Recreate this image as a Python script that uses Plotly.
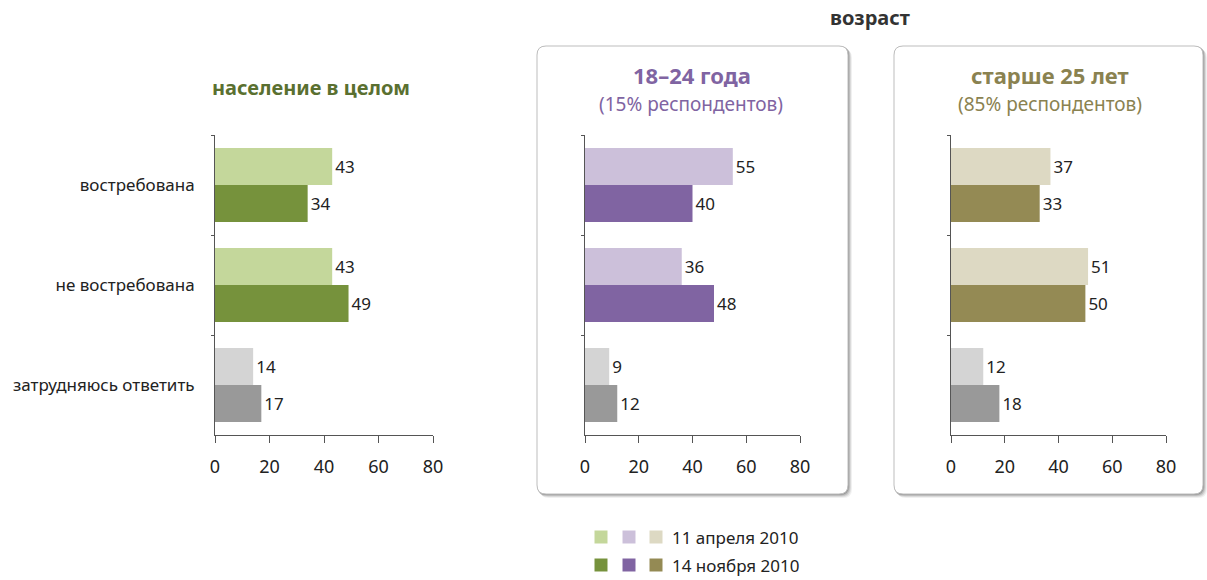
import plotly.graph_objects as go

# ---- data ----
categories = ["востребована", "не востребована", "затрудняюсь ответить"]
total_apr = [43, 43, 14]
total_nov = [34, 49, 17]
young_apr = [55, 36, 9]
young_nov = [40, 48, 12]
older_apr = [37, 51, 12]
older_nov = [33, 50, 18]
x_ticks = [0, 20, 40, 60, 80]
legend_labels = ["11 апреля 2010", "14 ноября 2010"]

W, H = 1207, 580
FONT = "Noto Sans"
TXT = "#222222"


def px(X):
    return X / W


def py(Y):
    return 1 - Y / H


panels = [
    dict(apr=total_apr, nov=total_nov, light="#c4d79b", dark="#76923c", x0=215, x1=433),
    dict(apr=young_apr, nov=young_nov, light="#ccc0da", dark="#8064a2", x0=585, x1=800),
    dict(apr=older_apr, nov=older_nov, light="#ddd9c3", dark="#948a54", x0=951, x1=1166),
]
gray_light, gray_dark = "#d4d4d4", "#999999"
y_top, y_bot = 135, 435

fig = go.Figure()
layout_axes = {}
for i, p in enumerate(panels, start=1):
    xa = "x" if i == 1 else f"x{i}"
    ya = "y" if i == 1 else f"y{i}"
    light_cols = [p["light"], p["light"], gray_light]
    dark_cols = [p["dark"], p["dark"], gray_dark]
    for vals, cols in ((p["apr"], light_cols), (p["nov"], dark_cols)):
        fig.add_trace(go.Bar(
            y=categories, x=vals, orientation="h",
            marker=dict(color=cols, line=dict(width=0)),
            text=[str(v) for v in vals], textposition="outside",
            textfont=dict(family=FONT, size=17, color=TXT),
            cliponaxis=False, showlegend=False, hoverinfo="skip",
            xaxis=xa, yaxis=ya,
        ))
    xkey = "xaxis" if i == 1 else f"xaxis{i}"
    ykey = "yaxis" if i == 1 else f"yaxis{i}"
    layout_axes[xkey] = dict(
        domain=[px(p["x0"]), px(p["x1"])], anchor=ya, range=[0, 80],
        tickvals=x_ticks, ticktext=[str(t) for t in x_ticks],
        showgrid=False, zeroline=False, showline=True, linecolor="#555555", linewidth=1,
        ticks="outside", ticklen=7, tickcolor="#555555", automargin=False,
        ticklabelstandoff=8,
        tickfont=dict(family=FONT, size=18, color=TXT), fixedrange=True,
    )
    layout_axes[ykey] = dict(
        domain=[py(y_bot), py(y_top)], anchor=xa,
        type="category", categoryorder="array", categoryarray=categories,
        autorange="reversed", automargin=False,
        showgrid=False, zeroline=False, showline=True, linecolor="#555555", linewidth=1,
        ticks="outside", ticklen=3, tickcolor="#555555", tickson="boundaries",
        showticklabels=(i == 1), ticklabelstandoff=16,
        tickfont=dict(family=FONT, size=17, color=TXT), fixedrange=True,
    )


def rr(x0, y0, x1, y1, r):
    Y0, Y1 = -y0, -y1
    return (f"M {x0 + r},{Y0} L {x1 - r},{Y0} Q {x1},{Y0} {x1},{Y0 - r} "
            f"L {x1},{Y1 + r} Q {x1},{Y1} {x1 - r},{Y1} L {x0 + r},{Y1} "
            f"Q {x0},{Y1} {x0},{Y1 + r} L {x0},{Y0 - r} Q {x0},{Y0} {x0 + r},{Y0} Z")


def pshape(path, fill, line_color=None, lw=0):
    return dict(type="path", path=path, xref="paper", yref="paper",
                xsizemode="pixel", ysizemode="pixel", xanchor=0, yanchor=1,
                fillcolor=fill, line=dict(color=line_color or fill, width=lw),
                layer="below")


shapes = []
for bx0, bx1 in ((537, 848), (894, 1203)):
    by0, by1 = 46, 494
    for off, a in ((4, 0.06), (3, 0.09), (2, 0.13), (1, 0.18)):
        shapes.append(pshape(rr(bx0 + off - 1, by0 + off - 1, bx1 + off, by1 + off, 9),
                             f"rgba(0,0,0,{a})"))
    shapes.append(pshape(rr(bx0, by0, bx1, by1, 9), "#ffffff", "#bdbdbd", 1))

# legend squares
sq = 13
legend_cols = [["#c4d79b", "#ccc0da", "#ddd9c3"], ["#76923c", "#8064a2", "#948a54"]]
for row, cy in enumerate((537, 565)):
    for cx, col in zip((601, 629, 656), legend_cols[row]):
        shapes.append(dict(type="rect", xref="paper", yref="paper",
                           x0=px(cx - sq / 2), x1=px(cx + sq / 2),
                           y0=py(cy + sq / 2), y1=py(cy - sq / 2),
                           fillcolor=col, line=dict(width=0)))

annotations = []


def ann(text, x, y, size, color, bold=False, xanchor="center"):
    annotations.append(dict(
        text=f"<b>{text}</b>" if bold else text, x=px(x), y=py(y),
        xref="paper", yref="paper", xanchor=xanchor, yanchor="middle",
        showarrow=False, font=dict(family=FONT, size=size, color=color)))


ann("население в целом", 311, 87, 20, "#5a7030", bold=True)
ann("возраст", 870, 18, 20, "#333333", bold=True)
ann("18–24 года", 692, 75, 22, "#8064a2", bold=True)
ann("(15% респондентов)", 691, 104, 19, "#8064a2")
ann("старше 25 лет", 1050, 75, 22, "#8a8250", bold=True)
ann("(85% респондентов)", 1050, 104, 19, "#8a8250")
for row, cy in enumerate((537, 565)):
    ann(legend_labels[row], 670, cy, 17, TXT, xanchor="left")

fig.update_layout(
    width=W, height=H, margin=dict(l=0, r=0, t=0, b=0, autoexpand=False),
    paper_bgcolor="#ffffff", plot_bgcolor="rgba(0,0,0,0)",
    barmode="group", bargap=0.26, bargroupgap=0,
    shapes=shapes, annotations=annotations, showlegend=False,
    font=dict(family=FONT, color=TXT),
    **layout_axes,
)

fig.write_html(
    "out.html",
    config={"displayModeBar": False},
    post_script="document.body.style.margin='0';document.body.style.overflow='hidden';",
)
